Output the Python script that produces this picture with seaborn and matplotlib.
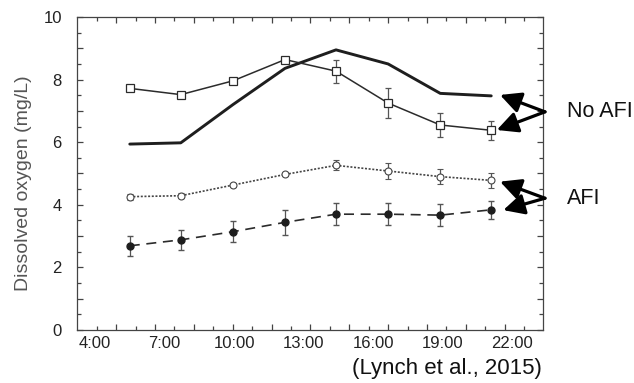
import numpy as np
import pandas as pd
import seaborn as sns
import matplotlib.pyplot as plt

# sampling times (decimal hours)
hours = [5.5, 7.7, 9.95, 12.2, 14.4, 16.65, 18.9, 21.1]
tick_hours = [4, 7, 10, 13, 16, 19, 22]
tick_labels = ["4:00", "7:00", "10:00", "13:00", "16:00", "19:00", "22:00"]

# No AFI, measured (open squares)
noafi_sq = [7.72, 7.52, 7.96, 8.64, 8.27, 7.25, 6.55, 6.38]
noafi_sq_err = [0.06, 0.05, 0.1, 0.07, 0.37, 0.49, 0.38, 0.31]
# No AFI, thick line (no markers)
noafi_line = [5.94, 5.98, 7.2, 8.36, 8.95, 8.5, 7.56, 7.48]
# AFI, open circles
afi_open = [4.26, 4.29, 4.63, 4.97, 5.26, 5.08, 4.90, 4.78]
afi_open_err = [0.1, 0.08, 0.05, 0.05, 0.16, 0.27, 0.23, 0.24]
# AFI, filled circles
afi_fill = [2.69, 2.88, 3.14, 3.44, 3.70, 3.70, 3.67, 3.84]
afi_fill_err = [0.32, 0.32, 0.33, 0.39, 0.36, 0.35, 0.34, 0.29]

sns.set_theme(style="ticks")
plt.rcParams["font.family"] = ["Liberation Sans", "DejaVu Sans"]

df = pd.DataFrame({"hour": hours, "sq": noafi_sq, "line": noafi_line,
                   "open": afi_open, "fill": afi_fill})

fig = plt.figure(figsize=(6.34, 3.83), dpi=100)
ax = fig.add_axes([0.1215, 0.1384, 0.735, 0.8172])

ink = "#2b2b2b"
ebc = "#555555"

sns.lineplot(data=df, x="hour", y="line", ax=ax, color="#1e1e1e", lw=2.1)
sns.lineplot(data=df, x="hour", y="sq", ax=ax, color=ink, lw=1.1)
sns.lineplot(data=df, x="hour", y="open", ax=ax, color="#444444", lw=1.2,
             linestyle=(0, (1.2, 1.0)))
sns.lineplot(data=df, x="hour", y="fill", ax=ax, color=ink, lw=1.2,
             linestyle=(0, (6, 4)))

ax.errorbar(hours, noafi_sq, yerr=noafi_sq_err, fmt="s", ms=5.5, mfc="white",
            mec=ink, mew=0.9, ecolor=ebc, elinewidth=0.9, capsize=2.2, zorder=5)
ax.errorbar(hours, afi_open, yerr=afi_open_err, fmt="o", ms=5, mfc="white",
            mec="#444444", mew=0.8, ecolor=ebc, elinewidth=0.9, capsize=2.2, zorder=5)
ax.errorbar(hours, afi_fill, yerr=afi_fill_err, fmt="o", ms=5, mfc="#1e1e1e",
            mec="#1e1e1e", ecolor=ebc, elinewidth=0.9, capsize=2.2, zorder=5)

ax.set_xlim(3.223, 23.335)
ax.set_ylim(0, 10)

# tick marks (inward, all four sides)
marks = 4.073 + 0.8386 * np.arange(23)
ax.set_xticks(marks[1::2])
ax.set_xticks(marks[0::2], minor=True)
ax.set_xticklabels([])
ax.set_yticks(np.arange(0, 11, 1))
ax.set_yticks(np.arange(0, 10.5, 0.5), minor=True)
ax.set_yticklabels([str(v) if v % 2 == 0 else "" for v in range(11)])
ax.tick_params(which="both", direction="in", top=True, right=True,
               color="#444444", width=0.9, labelsize=12, labelcolor="#222222",
               pad=3)
ax.tick_params(which="major", length=4.2)
ax.tick_params(which="minor", length=2.6)
ax.tick_params(axis="y", pad=11)

sec = ax.secondary_xaxis("bottom")
sec.set_xticks(tick_hours)
sec.set_xticklabels(tick_labels)
sec.tick_params(length=0, labelsize=12, labelcolor="#222222", pad=4)
sec.spines["bottom"].set_visible(False)

for s in ax.spines.values():
    s.set_color("#444444")
    s.set_linewidth(0.9)

ax.set_xlabel("")
ax.set_ylabel("Dissolved oxygen (mg/L)", fontsize=14, color="#555555")
ax.yaxis.set_label_coords(-0.097, 0.47)

arrow = dict(arrowstyle="-|>,head_length=0.9,head_width=0.45", lw=2.3,
             color="black", shrinkA=0, shrinkB=0, mutation_scale=14)
for tip in [(21.48, 7.51), (21.34, 6.39)]:
    ax.annotate("", xy=tip, xytext=(23.42, 6.97), arrowprops=arrow,
                annotation_clip=False)
for tip in [(21.48, 4.74), (21.62, 3.83)]:
    ax.annotate("", xy=tip, xytext=(23.42, 4.21), arrowprops=arrow,
                annotation_clip=False)
ax.text(24.37, 6.97, "No AFI", fontsize=15.5, ha="left", va="center",
        color="#111111", clip_on=False)
ax.text(24.37, 4.21, "AFI", fontsize=15.5, ha="left", va="center",
        color="#111111", clip_on=False)

fig.text(0.855, 0.039, "(Lynch et al., 2015)", fontsize=16, ha="right",
         va="center", color="#111111")

fig.savefig("out.png", dpi=100)
